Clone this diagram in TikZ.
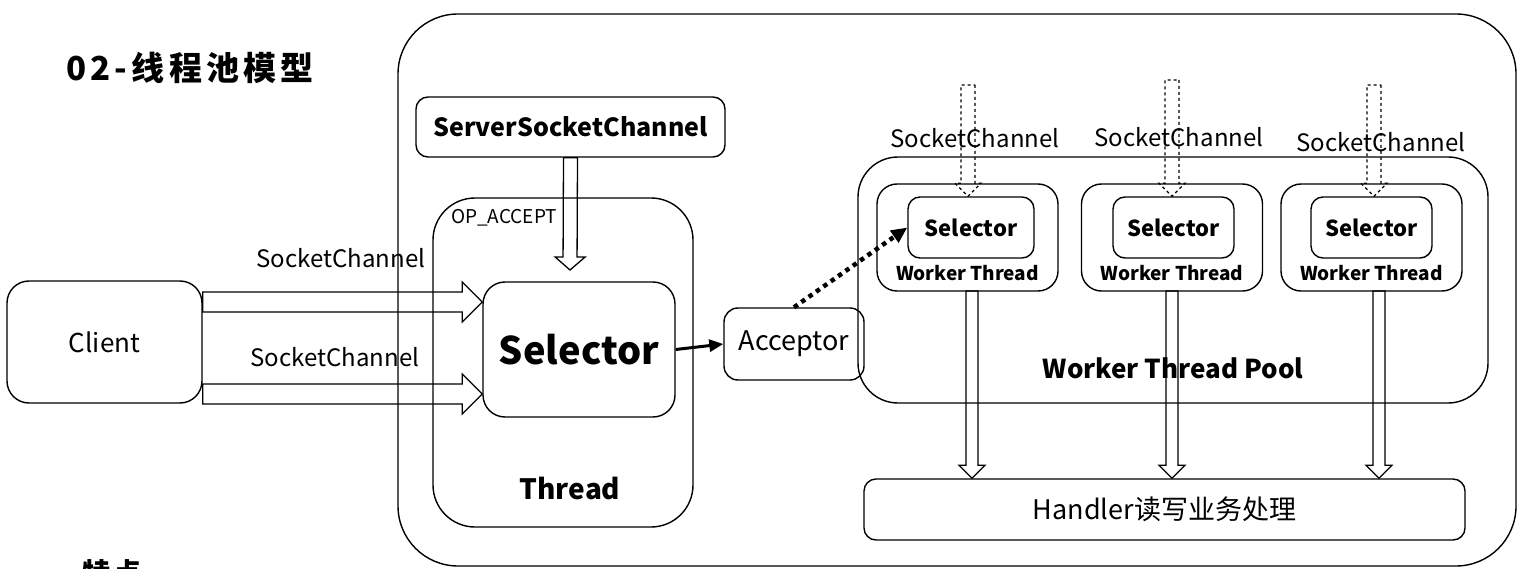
\documentclass[tikz,border=0pt]{standalone}
\usepackage{fontspec}
\setmainfont{Noto Sans CJK SC}
\usetikzlibrary{arrows.meta,calc}

\begin{document}
\begin{tikzpicture}[x=1pt,y=-1pt,
    box/.style={draw, line width=1.4pt, rounded corners=#1, inner sep=0pt},
    box/.default=14pt,
    txt/.style={inner sep=0pt, font=\fontsize{#1}{#1}\selectfont},
    btxt/.style={inner sep=0pt, font=\fontsize{#1}{#1}\selectfont\bfseries},
    headtxt/.style={inner sep=0pt, font=\fontsize{#1}{#1}\selectfont\bfseries\addfontfeatures{LetterSpace=13}},
    harrow/.style={line width=1.3pt},
    hollow/.style args={#1/#2/#3}{to path={
      let \p1=(\tikztostart), \p2=(\tikztotarget),
          \n1={veclen(\x2-\x1,\y2-\y1)}, \n2={(\x2-\x1)/\n1}, \n3={(\y2-\y1)/\n1} in
      ({\x1-\n3*#1},{\y1+\n2*#1})
      -- ({\x2-\n2*#3-\n3*#1},{\y2-\n3*#3+\n2*#1})
      -- ({\x2-\n2*#3-\n3*#2},{\y2-\n3*#3+\n2*#2})
      -- (\p2)
      -- ({\x2-\n2*#3+\n3*#2},{\y2-\n3*#3-\n2*#2})
      -- ({\x2-\n2*#3+\n3*#1},{\y2-\n3*#3-\n2*#1})
      -- ({\x1+\n3*#1},{\y1-\n2*#1}) -- cycle}}]
   \useasboundingbox (0,0) rectangle (1522,569);

   \node[headtxt=33pt] (title) at (190,68) {02-线程池模型};
   \node[headtxt=28pt, anchor=north] (feature) at (112,559) {特点};

   \node[box=60pt, minimum width=1118pt, minimum height=552pt] (outer) at (957,290) {};
   \node[box=22pt, minimum width=195pt, minimum height=122pt, txt=26pt] (client) at (104.5,342) {Client};
   \node[box=12pt, minimum width=309pt, minimum height=60pt, btxt=25pt] (ssc) at (570.5,127) {ServerSocketChannel};
   \node[box=42pt, minimum width=260pt, minimum height=329pt] (thread) at (563,362.5) {};
   \node[box=22pt, minimum width=192pt, minimum height=135pt, btxt=38pt] (sel) at (579,349.5) {Selector};
   \node[box=14pt, minimum width=140pt, minimum height=72pt, txt=27pt] (acc) at (794,344) {Acceptor};
   \node[box=40pt, minimum width=630pt, minimum height=246pt] (pool) at (1173,280) {};
   \node[box=20pt, minimum width=181pt, minimum height=107pt] (wt1) at (967.5,237.5) {};
   \node[box=20pt, minimum width=181pt, minimum height=107pt] (wt2) at (1172,237.5) {};
   \node[box=20pt, minimum width=181pt, minimum height=107pt] (wt3) at (1371.5,237.5) {};
   \node[box=12pt, minimum width=126pt, minimum height=61pt, btxt=22pt] (ws1) at (971,227.5) {Selector};
   \node[box=12pt, minimum width=121pt, minimum height=61pt, btxt=22pt] (ws2) at (1173.5,227.5) {Selector};
   \node[box=12pt, minimum width=121pt, minimum height=61pt, btxt=22pt] (ws3) at (1371.5,227.5) {Selector};
   \node[box=12pt, minimum width=601pt, minimum height=61pt, txt=27pt] (handler) at (1164.5,509.5) {Handler读写业务处理};

   \node[txt=19pt] (opaccept) at (504,218) {OP\_ACCEPT};
   \node[btxt=28pt] (threadlbl) at (570,489) {Thread};
   \node[btxt=19pt] (wtl1) at (967.5,273) {Worker Thread};
   \node[btxt=19pt] (wtl2) at (1172,273) {Worker Thread};
   \node[btxt=19pt] (wtl3) at (1371.5,273) {Worker Thread};
   \node[btxt=26pt] (poollbl) at (1173,368) {Worker Thread Pool};
   \node[txt=24pt] (sc1) at (341,258) {SocketChannel};
   \node[txt=24pt] (sc2) at (335,357) {SocketChannel};
   \node[txt=24pt] (sc3) at (975,138) {SocketChannel};
   \node[txt=24pt] (sc4) at (1179,137) {SocketChannel};
   \node[txt=24pt] (sc5) at (1381,142) {SocketChannel};

   \coordinate (row1) at (0,302);
   \coordinate (row2) at (0,394);
   \coordinate (opin) at (570,270);
   \coordinate (top1) at (968,85);
   \coordinate (top2) at (1172,80);
   \coordinate (top3) at (1374,85);
   \coordinate (down1) at (972,291);
   \coordinate (down2) at (1172,291);
   \coordinate (down3) at (1379,291);

   \draw[harrow] (client.east |- row1) to[hollow=10pt/20pt/20pt] (sel.west |- row1);
   \draw[harrow] (client.east |- row2) to[hollow=10pt/20pt/20pt] (sel.west |- row2);
   \draw[harrow] (ssc.south) to[hollow=7pt/15pt/13pt] (opin);
   \draw[harrow, dashed] (top1) to[hollow=7pt/13pt/13pt] (top1 |- ws1.north);
   \draw[harrow, dashed] (top2) to[hollow=7pt/13pt/13pt] (top2 |- ws2.north);
   \draw[harrow, dashed] (top3) to[hollow=7pt/13pt/13pt] (top3 |- ws3.north);
   \draw[harrow] (down1) to[hollow=6pt/13pt/13pt] (down1 |- handler.north);
   \draw[harrow] (down2) to[hollow=6pt/13pt/13pt] (down2 |- handler.north);
   \draw[harrow] (down3) to[hollow=6pt/13pt/13pt] (down3 |- handler.north);
   \draw[line width=3pt, -{Triangle[length=14pt,width=12pt]}] (sel.east) -- (acc.west);
   \draw[line width=4.5pt, dash pattern=on 4.5pt off 4.5pt, -{Triangle[length=16pt,width=14pt]}] (acc.north) -- (ws1.west);
\end{tikzpicture}
\end{document}
